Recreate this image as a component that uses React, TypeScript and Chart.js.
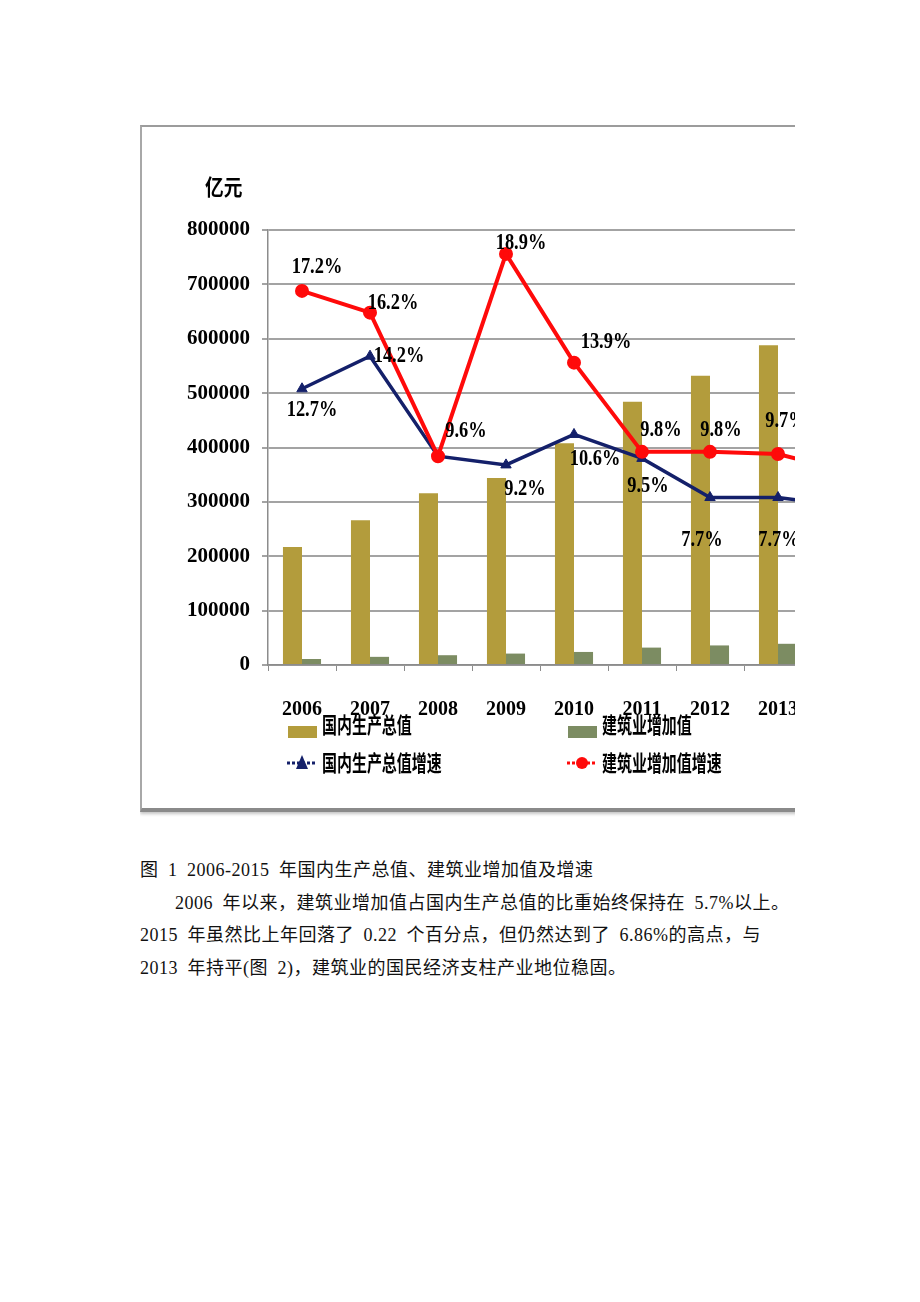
import React, { useEffect, useRef } from "react";
import { Chart, registerables } from "chart.js";

Chart.register(...registerables);

const years = ["2006", "2007", "2008", "2009", "2010", "2011", "2012", "2013", "2014", "2015"];
const gdpValues = [217000, 266000, 316000, 344000, 408000, 484000, 532000, 588000, 636000, 677000];
const constructionValues = [11000, 15000, 18000, 21000, 24000, 32000, 36000, 39000, 44700, 46500];
const gdpGrowth = [12.7, 14.2, 9.6, 9.2, 10.6, 9.5, 7.7, 7.7, 7.3, 6.9];
const constructionGrowth = [17.2, 16.2, 9.6, 18.9, 13.9, 9.8, 9.8, 9.7, 8.9, 6.8];
const yTicks = [0, 100000, 200000, 300000, 400000, 500000, 600000, 700000, 800000];
const seriesNames = ["国内生产总值", "建筑业增加值", "国内生产总值增速", "建筑业增加值增速"];
const hiddenGdpGrowthLabels = [2];

// label placement relative to each point (style only)
const gdpGrowthLabelNudge = [[10, 21], [29, 0], [14, 26], [19, 24], [21, 25], [6, 28], [-8, 43], [1, 43], [1, 43], [1, 43]];
const constructionGrowthLabelNudge = [[15, -24], [23, -10], [28, -25], [15, -11], [32, -21], [19, -22], [11, -22], [8, -33], [8, -30], [8, -30]];

const GOLD = "#b39c3c";
const GREEN = "#7c8c62";
const NAVY = "#14206a";
const RED = "#ff0a0a";

const CJK = "'Noto Sans CJK SC', sans-serif";
const SERIF = "'Liberation Serif', 'Times New Roman', serif";

function drawCondensed(ctx: CanvasRenderingContext2D, text: string, x: number, y: number, font: string, sx: number, align: "left" | "center") {
  ctx.save();
  ctx.font = font;
  ctx.fillStyle = "#000";
  ctx.textBaseline = "middle";
  ctx.textAlign = align;
  ctx.translate(x, y);
  ctx.scale(sx, 1);
  ctx.fillText(text, 0, 0);
  ctx.restore();
}

const decorPlugin = {
  id: "decor",
  afterDatasetsDraw(chart: any) {
    const ctx: CanvasRenderingContext2D = chart.ctx;
    const labelFont = `bold 23px ${SERIF}`;
    const blueMeta = chart.getDatasetMeta(2);
    blueMeta.data.forEach((pt: any, i: number) => {
      if (hiddenGdpGrowthLabels.includes(i)) return;
      const [dx, dy] = gdpGrowthLabelNudge[i];
      drawCondensed(ctx, gdpGrowth[i].toFixed(1) + "%", pt.x + dx, pt.y + dy, labelFont, 0.8, "center");
    });
    const redMeta = chart.getDatasetMeta(3);
    redMeta.data.forEach((pt: any, i: number) => {
      const [dx, dy] = constructionGrowthLabelNudge[i];
      drawCondensed(ctx, constructionGrowth[i].toFixed(1) + "%", pt.x + dx, pt.y + dy, labelFont, 0.8, "center");
    });
  },
  afterDraw(chart: any) {
    const ctx: CanvasRenderingContext2D = chart.ctx;
    const a = chart.chartArea;
    drawCondensed(ctx, "亿元", a.left - 63, a.top - 43, `bold 22px ${CJK}`, 0.85, "left");
    const legendFont = `bold 22px ${CJK}`;
    const cols = [a.left + 19, a.left + 299];
    const row1 = a.bottom + 60;
    const row2 = a.bottom + 98;
    [GOLD, GREEN].forEach((c, k) => {
      ctx.save();
      ctx.fillStyle = c;
      ctx.fillRect(cols[k] + 1, row1 + 1, 29, 12);
      ctx.restore();
      drawCondensed(ctx, seriesNames[k], cols[k] + 35, row1, legendFont, 0.68, "left");
    });
    [NAVY, RED].forEach((c, k) => {
      const x0 = cols[k];
      ctx.save();
      ctx.strokeStyle = c;
      ctx.lineWidth = 3;
      ctx.setLineDash([3, 2]);
      ctx.beginPath();
      ctx.moveTo(x0, row2);
      ctx.lineTo(x0 + 30, row2);
      ctx.stroke();
      ctx.setLineDash([]);
      ctx.fillStyle = c;
      ctx.beginPath();
      if (k === 0) {
        ctx.moveTo(x0 + 15, row2 - 8);
        ctx.lineTo(x0 + 21, row2 + 6);
        ctx.lineTo(x0 + 9, row2 + 6);
        ctx.closePath();
      } else {
        ctx.arc(x0 + 15, row2, 6, 0, Math.PI * 2);
      }
      ctx.fill();
      ctx.restore();
      drawCondensed(ctx, seriesNames[k + 2], x0 + 35, row2, legendFont, 0.68, "left");
    });
  },
};

function ChartCanvas() {
  const ref = useRef<HTMLCanvasElement | null>(null);
  useEffect(() => {
    if (!ref.current) return;
    const chart = new Chart(ref.current, {
      type: "bar",
      data: {
        labels: years,
        datasets: [
          {
            type: "bar",
            label: seriesNames[0],
            data: gdpValues,
            backgroundColor: GOLD,
            categoryPercentage: 0.56,
            barPercentage: 1.0,
            yAxisID: "y",
            order: 3,
          },
          {
            type: "bar",
            label: seriesNames[1],
            data: constructionValues,
            backgroundColor: GREEN,
            categoryPercentage: 0.56,
            barPercentage: 1.0,
            yAxisID: "y",
            order: 3,
          },
          {
            type: "line",
            label: seriesNames[2],
            data: gdpGrowth,
            borderColor: NAVY,
            backgroundColor: NAVY,
            borderWidth: 3.5,
            pointStyle: "triangle",
            pointRadius: 6,
            pointBorderWidth: 1,
            yAxisID: "y1",
            order: 2,
          },
          {
            type: "line",
            label: seriesNames[3],
            data: constructionGrowth,
            borderColor: RED,
            backgroundColor: RED,
            borderWidth: 4,
            pointStyle: "circle",
            pointRadius: 5,
            yAxisID: "y1",
            order: 1,
          },
        ] as any,
      },
      options: {
        animation: false,
        responsive: false,
        devicePixelRatio: 1,
        layout: { padding: { top: 103, right: 24, left: 0, bottom: 0 } },
        plugins: { legend: { display: false }, tooltip: { enabled: false } },
        scales: {
          x: {
            offset: true,
            grid: { display: true, drawOnChartArea: false, drawTicks: true, tickLength: 6, color: "#8c8c8c", offset: true },
            border: { display: true, color: "#8c8c8c", width: 1.5 },
            ticks: { color: "#000", font: { family: SERIF, size: 20, weight: "bold" }, padding: 27, maxRotation: 0 },
            afterFit: (s: any) => { s.height = 141; },
          },
          y: {
            min: 0,
            max: 800000,
            afterBuildTicks: (s: any) => { s.ticks = yTicks.map((v) => ({ value: v })); },
            grid: { color: "#a3a3a3", lineWidth: 2, tickLength: 6, drawTicks: true },
            border: { display: true, color: "#8c8c8c", width: 1.5 },
            ticks: {
              color: "#000",
              font: { family: SERIF, size: 21, weight: "bold" },
              padding: 12,
              callback: (v: any) => String(v),
            },
            afterFit: (s: any) => { s.width = 126; },
          },
          y1: { display: false, min: 0, max: 20 },
        },
      } as any,
      plugins: [decorPlugin],
    });
    return () => chart.destroy();
  }, []);
  return <canvas ref={ref} width={830} height={679} style={{ width: 830, height: 679, display: "block" }} />;
}

export default function App() {
  const para: React.CSSProperties = {
    margin: 0,
    fontFamily: `'Liberation Serif', ${CJK}`,
    fontSize: 18,
    lineHeight: "32.7px",
    color: "#111",
    whiteSpace: "pre",
    letterSpacing: "0.5px",
    wordSpacing: "4.5px",
  };
  return (
    <div style={{ position: "relative", height: 1286 }}>
      <div style={{ position: "absolute", left: 132, top: 117, width: 655, height: 702, overflow: "hidden" }}>
        <div
          style={{
            width: 900,
            height: 681,
            borderTop: "2px solid #9c9c9c",
            borderLeft: "2px solid #a8a8a8",
            borderBottom: "4px solid #8a8a8a",
            boxShadow: "0 2px 3px #c4c4c4",
            background: "#fff",
          }}
        >
          <ChartCanvas />
        </div>
      </div>
      <div style={{ position: "absolute", left: 132, top: 846, width: 700 }}>
        <p style={para}>图 1 2006-2015 年国内生产总值、建筑业增加值及增速</p>
        <p style={{ ...para, textIndent: 35 }}>2006 年以来，建筑业增加值占国内生产总值的比重始终保持在 5.7%以上。</p>
        <p style={para}>2015 年虽然比上年回落了 0.22 个百分点，但仍然达到了 6.86%的高点，与</p>
        <p style={para}>2013 年持平(图 2)，建筑业的国民经济支柱产业地位稳固。</p>
      </div>
    </div>
  );
}
